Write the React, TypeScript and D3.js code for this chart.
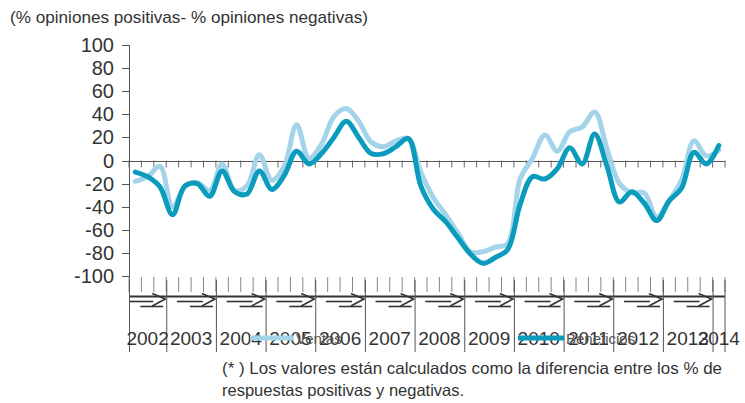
import React from "react";
import * as d3 from "d3";

// quarterly values, 2002 Q2 .. 2014 Q1
const ventas = [
  -18, -14, -5, -40, -23, -19, -26, -3, -26, -22, 5, -17,
  -5, 31, 2, 14, 38, 45, 34, 16, 12, 17, 19, -10,
  -32, -47, -63, -79, -79, -75, -72, -16, 2, 22, 8, 25,
  29, 42, 10, -20, -28, -28, -49, -35, -17, 17, 4, 9,
];
const beneficios = [
  -10, -14, -23, -47, -22, -20, -31, -9, -27, -29, -9, -25,
  -13, 8, -3, 6, 20, 34, 20, 6, 6, 12, 19, -22,
  -42, -53, -67, -81, -89, -84, -77, -38, -14, -16, -7, 11,
  -3, 23, -5, -36, -27, -37, -52, -35, -24, 7, -3, 13,
];
const years = ["2002", "2003", "2004", "2005", "2006", "2007", "2008", "2009", "2010", "2011", "2012", "2013", "2014"];
const quartersPerYear = [3, 4, 4, 4, 4, 4, 4, 4, 4, 4, 4, 4, 1];
const yTicks = [100, 80, 60, 40, 20, 0, -20, -40, -60, -80, -100];

const LIGHT = "#a3d4e9";
const DARK = "#0a9bbd";
const FONT = "'Liberation Sans', Arial, sans-serif";

export default function App() {
  const nQ = d3.sum(quartersPerYear);
  const x = d3.scaleLinear().domain([0, nQ]).range([129, 725]);
  const y = d3.scaleLinear().domain([-100, 100]).range([276, 45]);

  const line = d3
    .line<number>()
    .x((_, i) => x(i + 0.5))
    .y((v) => y(v))
    .curve(d3.curveCatmullRom.alpha(0.5));

  // year band start indices
  const starts: number[] = [];
  let acc = 0;
  quartersPerYear.forEach((q) => {
    starts.push(acc);
    acc += q;
  });

  const quarterIdx = d3.range(0, nQ + 1);

  return (
    <svg width={745} height={403} style={{ position: "absolute", left: 0, top: 0 }} fontFamily={FONT}>
      <rect width={745} height={403} fill="#fff" />
      <text x={10} y={23} fontSize={17} fill="#333" textLength={358} lengthAdjust="spacingAndGlyphs">
        (% opiniones positivas- % opiniones negativas)
      </text>

      {/* y axis */}
      <line x1={129.5} x2={129.5} y1={y(100)} y2={352} stroke="#555" />
      {yTicks.map((t) => (
        <g key={t}>
          <line x1={122} x2={129} y1={Math.round(y(t)) + 0.5} y2={Math.round(y(t)) + 0.5} stroke="#555" />
          <text x={114} y={y(t) + 7} fontSize={20} textAnchor="end" fill="#333">
            {t}
          </text>
        </g>
      ))}

      {/* zero line with quarter ticks */}
      <line x1={129} x2={725} y1={Math.round(y(0)) + 0.5} y2={Math.round(y(0)) + 0.5} stroke="#555" />
      {quarterIdx.map((k) => (
        <line key={"zt" + k} x1={x(k)} x2={x(k)} y1={y(0)} y2={y(0) + 7} stroke="#666" />
      ))}

      {/* bottom quarter ticks */}
      {quarterIdx.map((k) => (
        <line key={"bt" + k} x1={x(k)} x2={x(k)} y1={277} y2={292} stroke="#888" />
      ))}

      {/* garbled category axis marks */}
      <line x1={129} x2={725} y1={296.5} y2={296.5} stroke="#333" strokeWidth={2} />
      {years.map((yr, j) => {
        const a = x(starts[j]);
        const b = x(starts[j] + quartersPerYear[j]);
        if (quartersPerYear[j] < 2) return null;
        return (
          <g key={"m" + yr} stroke="#333" fill="none" strokeWidth={1.6}>
            <line x1={Math.max(a, b - 39)} x2={b - 13} y1={301.5} y2={301.5} />
            <line x1={Math.max(a + 10, b - 26)} x2={b - 3} y1={306.5} y2={306.5} />
            <polyline points={`${b - 14},293.5 ${b - 1},299 ${b - 14},306`} />
          </g>
        );
      })}
      {years.map((yr, j) => (
        <line
          key={"yl" + yr}
          x1={x(starts[j]) + 0.5}
          x2={x(starts[j]) + 0.5}
          y1={280}
          y2={352}
          stroke="#555"
        />
      ))}
      <line x1={x(nQ)} x2={x(nQ)} y1={280} y2={352} stroke="#555" />

      {/* year labels */}
      {years.map((yr, j) => (
        <text
          key={"yt" + yr}
          x={x(starts[j] + quartersPerYear[j] / 2)}
          y={345}
          fontSize={19}
          textAnchor="middle"
          fill="#333"
        >
          {yr}
        </text>
      ))}

      {/* series */}
      <path d={line(ventas) || ""} fill="none" stroke={LIGHT} strokeWidth={5} strokeLinejoin="round" strokeLinecap="round" />
      <path d={line(beneficios) || ""} fill="none" stroke={DARK} strokeWidth={5} strokeLinejoin="round" strokeLinecap="round" />

      {/* legend */}
      <line x1={250} x2={293} y1={338} y2={338} stroke={LIGHT} strokeWidth={5} />
      <text x={296} y={344} fontSize={15} fill="#555">
        Ventas
      </text>
      <line x1={518} x2={564} y1={338} y2={338} stroke={DARK} strokeWidth={5} />
      <text x={566} y={344} fontSize={15} fill="#555">
        Beneficios
      </text>

      {/* footnote */}
      <text x={222} y={374} fontSize={16.5} fill="#333" textLength={500} lengthAdjust="spacingAndGlyphs">
        (* ) Los valores están calculados como la diferencia entre los % de
      </text>
      <text x={222} y={396} fontSize={16.5} fill="#333">
        respuestas positivas y negativas.
      </text>
    </svg>
  );
}
